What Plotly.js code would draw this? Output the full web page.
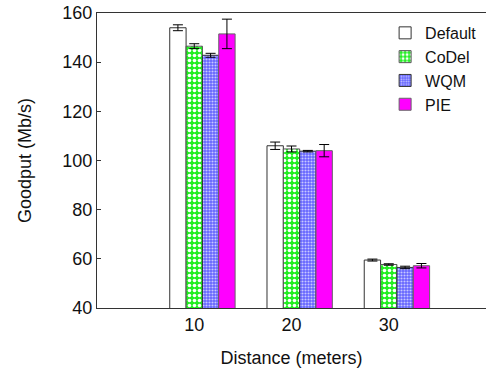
<!DOCTYPE html>
<html>
<head>
<meta charset="utf-8">
<script src="https://cdn.plot.ly/plotly-3.0.1.min.js"></script>
<style>html,body{margin:0;padding:0;background:#fff;}#chart{width:488px;height:377px;}</style>
</head>
<body>
<div id="chart"></div>
<script>
const distances = [10, 20, 30];
const seriesNames = ["Default", "CoDel", "WQM", "PIE"];
const defaultVals = [154.0, 106.0, 59.5];
const defaultErr  = [1.2, 1.5, 0.4];
const codelVals   = [146.5, 104.7, 57.7];
const codelErr    = [1.0, 1.2, 0.3];
const wqmVals     = [142.8, 103.8, 56.5];
const wqmErr      = [0.8, 0.3, 0.5];
const pieVals     = [151.5, 104.0, 57.2];
const pieErr      = [6.0, 2.5, 0.9];

const values = [defaultVals, codelVals, wqmVals, pieVals];
const errs = [defaultErr, codelErr, wqmErr, pieErr];

const barW = 1.68;
const offsets = [-2.52, -0.84, 0.84, 2.52];
const markers = [
  {color: "#ffffff", line: {color: "#333333", width: 1}},
  {color: "#22ee22", line: {color: "#555555", width: 1},
   pattern: {shape: ".", fillmode: "replace", bgcolor: "#22ee22", fgcolor: "#ffffff", size: 5, solidity: 0.4}},
  {color: "#6060ff", line: {color: "#333333", width: 1},
   pattern: {shape: ".", fillmode: "replace", bgcolor: "#6464ff", fgcolor: "#c8c8ff", size: 3, solidity: 0.4}},
  {color: "#ff00ff", line: {color: "#666666", width: 1}}
];

const traces = seriesNames.map((n, i) => ({
  type: "bar",
  name: n,
  x: distances,
  y: values[i],
  width: barW,
  offset: offsets[i],
  marker: markers[i],
  error_y: {type: "data", array: errs[i], visible: true, color: "#000000", thickness: 1, width: 5}
}));

const layout = {
  width: 488, height: 377,
  margin: {l: 97, r: 2, t: 13, b: 69},
  paper_bgcolor: "#ffffff", plot_bgcolor: "#ffffff",
  barmode: "overlay",
  font: {family: "Liberation Sans, Arial, sans-serif", size: 18, color: "#111"},
  xaxis: {
    range: [0, 40], tickvals: distances, ticktext: distances.map(String),
    showgrid: false, zeroline: false, showline: true, linecolor: "#333", linewidth: 1, mirror: true,
    ticks: "", tickfont: {size: 18}, automargin: false,
    title: {text: "Distance (meters)", font: {size: 18}, standoff: 17}
  },
  yaxis: {
    range: [40, 160], dtick: 20, showgrid: false, zeroline: false,
    showline: true, linecolor: "#333", linewidth: 1, automargin: false,
    ticks: "inside", ticklen: 4, tickcolor: "#333", tickfont: {size: 18},
    title: {text: "Goodput (Mb/s)", font: {size: 18}, standoff: 26}
  },
  legend: {
    x: 0.99, y: 0.99, xanchor: "right", yanchor: "top",
    bgcolor: "rgba(0,0,0,0)", font: {size: 16}, tracegroupgap: 0,
    itemwidth: 30
  },
  showlegend: true
};

Plotly.newPlot("chart", traces, layout, {displayModeBar: false, staticPlot: true});
</script>
</body>
</html>
